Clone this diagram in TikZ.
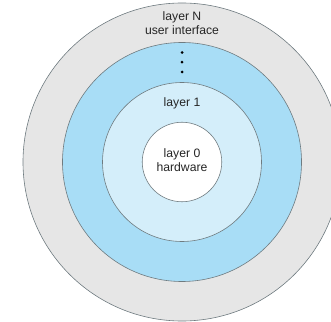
\documentclass[tikz,border=0pt]{standalone}
\usepackage{fontspec}
\setmainfont{Liberation Sans}
\definecolor{ringgray}{HTML}{E6E6E6}
\definecolor{ringblue}{HTML}{A8DDF6}
\definecolor{ringlight}{HTML}{D4EEFA}
\definecolor{ringline}{HTML}{6F7B80}
\begin{document}
\begin{tikzpicture}[x=1pt,y=1pt,
  ring/.style={draw=ringline,line width=0.6pt,circle,inner sep=0pt},
  lbl/.style={font=\fontsize{12.2}{14.2}\selectfont,align=center,text=black!85,inner sep=0pt},
  dotm/.style={circle,fill=black,inner sep=0pt,minimum size=3pt}]
\useasboundingbox (0,0) rectangle (331,321);
\begin{scope}
\clip (0,0) rectangle (331,321);
\node[ring,fill=ringgray,minimum size=318pt] (lN) at (182,159) {};
\node[ring,fill=ringblue,minimum size=239pt] (lmid) at (182,159) {};
\node[ring,fill=ringlight,minimum size=159pt] (l1) at (182,159) {};
\node[ring,fill=white,minimum size=79.5pt] (l0) at (182,159) {};
\end{scope}
\node[lbl] (tN) at (182,298) {layer N\\user interface};
\node[dotm] (d1) at (182,268.5) {};
\node[dotm] (d2) at (182,258.8) {};
\node[dotm] (d3) at (182,249) {};
\node[lbl] (t1) at (182,218) {layer 1};
\node[lbl] (t0) at (182,161) {layer 0\\hardware};
\end{tikzpicture}
\end{document}
